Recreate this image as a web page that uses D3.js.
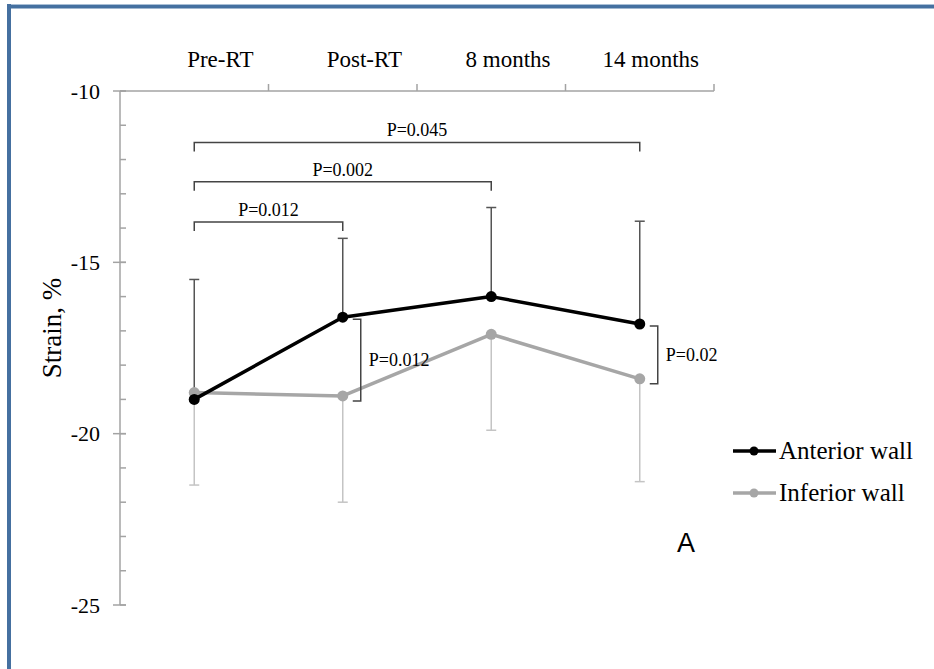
<!DOCTYPE html>
<html lang="en">
<head>
  <meta charset="UTF-8">
  <title>Strain by time point</title>
  <script src="https://d3js.org/d3.v7.min.js"></script>
  <style>
    body { margin: 0; background: #fff; }
  </style>
</head>
<body>
<div id="chart"></div>
<script>
  // data
  const categories = ["Pre-RT", "Post-RT", "8 months", "14 months"];
  const anterior = [-19.0, -16.6, -16.0, -16.8];
  const anteriorSD = [3.5, 2.3, 2.6, 3.0];
  const inferior = [-18.8, -18.9, -17.1, -18.4];
  const inferiorSD = [2.7, 3.1, 2.8, 3.0];
  const yTicks = [-10, -15, -20, -25];
  // pairwise comparisons between time points (bracket level in strain units)
  const timeComparisons = [
    { from: "Pre-RT", to: "14 months", level: -11.5, label: "P=0.045" },
    { from: "Pre-RT", to: "8 months", level: -12.65, label: "P=0.002" },
    { from: "Pre-RT", to: "Post-RT", level: -13.82, label: "P=0.012" }
  ];
  // anterior vs inferior at one time point
  const wallComparisons = [
    { at: "Post-RT", label: "P=0.012" },
    { at: "14 months", label: "P=0.02" }
  ];

  const W = 934, H = 669;
  const serif = "'Liberation Serif', 'Times New Roman', Times, serif";
  const svg = d3.select("#chart").append("svg")
    .attr("width", W).attr("height", H)
    .style("font-family", serif)
    .style("fill", "#000");

  // blue frame (top and left edges)
  svg.append("rect").attr("x", 7).attr("y", 4).attr("width", W - 7).attr("height", 1.5).style("fill", "#a9bfd6");
  svg.append("rect").attr("x", 7).attr("y", 5).attr("width", W - 7).attr("height", 3.5).style("fill", "#4570a0");
  svg.append("rect").attr("x", 7).attr("y", 4).attr("width", 4).attr("height", H - 4).style("fill", "#4570a0");

  const x = d3.scaleBand().domain(categories).range([120, 714]);
  const y = d3.scaleLinear().domain([-10, -25]).range([91, 605]);
  const cx = c => x(c) + x.bandwidth() / 2;

  const axisColor = "#a3a3a3";

  // x axis along the top (at -10)
  const xAxis = svg.append("g");
  xAxis.append("line")
    .attr("x1", x.range()[0]).attr("x2", x.range()[1])
    .attr("y1", y(-10)).attr("y2", y(-10))
    .attr("stroke", axisColor).attr("stroke-width", 1.5);
  xAxis.selectAll(".xtick").data(categories).enter().append("line")
    .attr("x1", d => x(d) + x.step()).attr("x2", d => x(d) + x.step())
    .attr("y1", y(-10)).attr("y2", y(-10) - 7)
    .attr("stroke", axisColor).attr("stroke-width", 1.5);
  xAxis.selectAll(".xlab").data(categories).enter().append("text")
    .attr("x", d => x(d) + x.step() - 15)
    .attr("y", 67)
    .attr("text-anchor", "end")
    .style("font-size", "23px")
    .text(d => d);

  // y axis
  const yAxis = svg.append("g");
  yAxis.append("line")
    .attr("x1", 120).attr("x2", 120)
    .attr("y1", y(-10)).attr("y2", y(-25))
    .attr("stroke", axisColor).attr("stroke-width", 1.5);
  yAxis.selectAll(".minor").data(d3.range(-10, -25.5, -1)).enter().append("line")
    .attr("x1", 120).attr("x2", 126)
    .attr("y1", d => y(d)).attr("y2", d => y(d))
    .attr("stroke", axisColor).attr("stroke-width", 1.5);
  yAxis.selectAll(".major").data(yTicks).enter().append("line")
    .attr("x1", 113).attr("x2", 126)
    .attr("y1", d => y(d)).attr("y2", d => y(d))
    .attr("stroke", axisColor).attr("stroke-width", 1.5);
  yAxis.selectAll(".ylab").data(yTicks).enter().append("text")
    .attr("x", 100).attr("y", d => y(d))
    .attr("dy", "0.35em")
    .attr("text-anchor", "end")
    .style("font-size", "22px")
    .text(d => String(d));

  svg.append("text")
    .attr("transform", "translate(52,328) rotate(-90)")
    .attr("text-anchor", "middle")
    .attr("dy", "0.35em")
    .style("font-size", "27px")
    .text("Strain, %");

  // error bars: anterior upward, inferior downward
  function errorBars(vals, sds, dir, color) {
    const g = svg.append("g").attr("stroke", color).attr("stroke-width", 1.5).style("fill", "none");
    categories.forEach((c, i) => {
      const end = y(vals[i] + dir * sds[i]);
      g.append("line").attr("x1", cx(c)).attr("x2", cx(c)).attr("y1", y(vals[i])).attr("y2", end);
      g.append("line").attr("x1", cx(c) - 5).attr("x2", cx(c) + 5).attr("y1", end).attr("y2", end);
    });
  }
  errorBars(anterior, anteriorSD, 1, "#555");
  errorBars(inferior, inferiorSD, -1, "#c4c4c4");

  const line = d3.line().x((d, i) => cx(categories[i])).y(d => y(d));

  function series(vals, color) {
    svg.append("path").datum(vals)
      .attr("d", line)
      .style("fill", "none")
      .attr("stroke", color)
      .attr("stroke-width", 3.5)
      .attr("stroke-linejoin", "round");
    svg.selectAll(null).data(vals).enter().append("circle")
      .attr("cx", (d, i) => cx(categories[i]))
      .attr("cy", d => y(d))
      .attr("r", 5.5)
      .style("fill", color);
  }
  series(inferior, "#a6a6a6");
  series(anterior, "#000");

  // brackets between time points
  const bracketColor = "#444";
  timeComparisons.forEach(b => {
    const x1 = cx(b.from), x2 = cx(b.to), yy = y(b.level);
    svg.append("path")
      .attr("d", `M${x1},${yy + 9}V${yy}H${x2}V${yy + 9}`)
      .style("fill", "none").attr("stroke", bracketColor).attr("stroke-width", 1.5);
    svg.append("text")
      .attr("x", (x1 + x2) / 2).attr("y", yy - 6)
      .attr("text-anchor", "middle")
      .style("font-size", "18px")
      .text(b.label);
  });

  // brackets between walls
  wallComparisons.forEach(b => {
    const i = categories.indexOf(b.at);
    const xx = cx(b.at) + 18;
    const y1 = y(anterior[i]) + 2, y2 = y(inferior[i]) + 5;
    svg.append("path")
      .attr("d", `M${xx - 8},${y1}H${xx}V${y2}H${xx - 8}`)
      .style("fill", "none").attr("stroke", bracketColor).attr("stroke-width", 1.5);
    svg.append("text")
      .attr("x", xx + 8).attr("y", (y1 + y2) / 2)
      .attr("dy", "0.35em")
      .style("font-size", "18px")
      .text(b.label);
  });

  // legend
  const legend = [
    { name: "Anterior wall", color: "#000" },
    { name: "Inferior wall", color: "#a6a6a6" }
  ];
  const lg = svg.selectAll(".legend").data(legend).enter().append("g")
    .attr("transform", (d, i) => `translate(733,${451 + i * 42})`);
  lg.append("line").attr("x1", 0).attr("x2", 43)
    .attr("stroke", d => d.color).attr("stroke-width", 3.5);
  lg.append("circle").attr("cx", 21).attr("r", 4.5).style("fill", d => d.color);
  lg.append("text").attr("x", 46).attr("dy", "0.3em")
    .style("font-size", "25px")
    .style("fill", "#000")
    .text(d => d.name);

  svg.append("text")
    .attr("x", 677).attr("y", 552)
    .style("font-family", "'Liberation Sans', Arial, sans-serif")
    .style("font-size", "27px")
    .text("A");
</script>
</body>
</html>
